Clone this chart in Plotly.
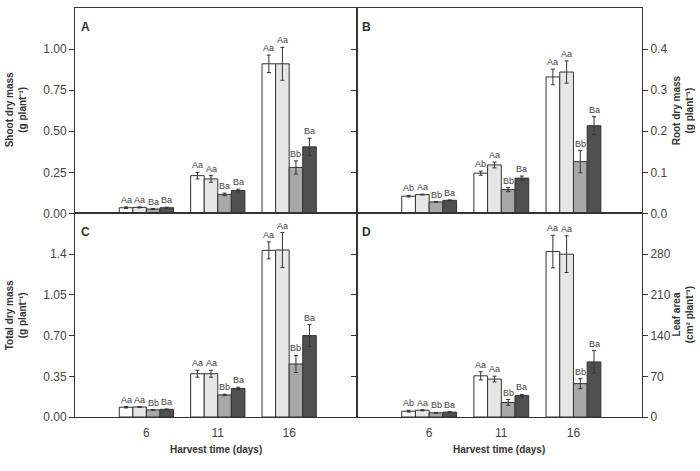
import plotly.graph_objects as go

days = ["6", "11", "16"]
treatments = ["T1", "T2", "T3", "T4"]
bar_colors = ["#ffffff", "#e6e6e6", "#a8a8a8", "#505050"]

# Panel A: shoot dry mass (g plant-1)
shoot = [[0.035, 0.23, 0.91], [0.037, 0.21, 0.91], [0.027, 0.116, 0.28], [0.035, 0.14, 0.405]]
shoot_err = [[0.005, 0.02, 0.053], [0.003, 0.02, 0.10], [0.003, 0.008, 0.04], [0.003, 0.008, 0.053]]
shoot_lab = [["Aa", "Aa", "Aa"], ["Aa", "Aa", "Aa"], ["Ba", "Ba", "Bb"], ["Ba", "Ba", "Ba"]]

# Panel B: root dry mass (g plant-1)
root = [[0.042, 0.098, 0.332], [0.046, 0.118, 0.344], [0.028, 0.058, 0.126], [0.032, 0.086, 0.2135]]
root_err = [[0.002, 0.005, 0.019], [0.001, 0.007, 0.027], [0.001, 0.005, 0.027], [0.001, 0.005, 0.022]]
root_lab = [["Ab", "Ab", "Aa"], ["Aa", "Aa", "Aa"], ["Bb", "Bb", "Bb"], ["Ba", "Ba", "Ba"]]

# Panel C: total dry mass (g plant-1)
total = [[0.084, 0.372, 1.433], [0.086, 0.372, 1.436], [0.061, 0.19, 0.456], [0.066, 0.246, 0.70]]
total_err = [[0.006, 0.03, 0.073], [0.003, 0.03, 0.15], [0.003, 0.006, 0.073], [0.003, 0.01, 0.094]]
total_lab = [["Aa", "Aa", "Aa"], ["Aa", "Aa", "Aa"], ["Bb", "Bb", "Bb"], ["Ba", "Ba", "Ba"]]

# Panel D: leaf area (cm2 plant-1)
leaf = [[10.0, 70.8, 284.5], [11.7, 65.2, 280.0], [7.2, 25.0, 57.4], [8.4, 36.8, 94.7]]
leaf_err = [[1.5, 7.0, 28.0], [1.0, 5.0, 31.5], [0.8, 5.0, 8.6], [0.8, 2.0, 19.5]]
leaf_lab = [["Ab", "Aa", "Aa"], ["Aa", "Aa", "Aa"], ["Bb", "Bb", "Bb"], ["Ba", "Ba", "Ba"]]

panels = [
    ("A", shoot, shoot_err, shoot_lab, "x", "y"),
    ("B", root, root_err, root_lab, "x2", "y2"),
    ("C", total, total_err, total_lab, "x3", "y3"),
    ("D", leaf, leaf_err, leaf_lab, "x4", "y4"),
]

FONT = "Liberation Sans, Arial, sans-serif"
LINE = "#333333"
TXT = "#444444"
bw = 0.19
xpos = [0, 1, 2]

fig = go.Figure()
annotations = []
for letter, vals, errs, labs, xa, ya in panels:
    for i in range(4):
        off = -2 * bw + i * bw
        fig.add_trace(go.Bar(
            x=xpos, y=vals[i], width=bw, offset=off,
            marker=dict(color=bar_colors[i], line=dict(color=LINE, width=1)),
            error_y=dict(type="data", array=errs[i], color=LINE, thickness=1, width=2),
            xaxis=xa, yaxis=ya, showlegend=False, name=treatments[i],
        ))
        for j in range(3):
            annotations.append(dict(
                x=xpos[j] + off + bw / 2, y=vals[i][j] + errs[i][j],
                xref=xa, yref=ya, text=labs[i][j], showarrow=False,
                yanchor="bottom", yshift=0,
                font=dict(family=FONT, size=9, color=TXT),
            ))

xdom_l = [75 / 700, 357 / 700]
xdom_r = [357 / 700, 642 / 700]
ydom_t = [1 - 216.7 / 471, 1 - 8 / 471]
ydom_b = [1 - 423.3 / 471, 1 - 216.7 / 471]
xr = [-1.0, 2.95]

common_x = dict(range=xr, tickvals=xpos, ticktext=days, showline=True, linecolor=LINE,
                linewidth=1, mirror=True, ticks="", showgrid=False, zeroline=False,
                ticklabelstandoff=5,
                tickfont=dict(family=FONT, size=12, color=TXT))
common_y = dict(showline=True, linecolor=LINE, linewidth=1, mirror=True, ticks="outside",
                ticklen=5, tickcolor=LINE, showgrid=False, zeroline=False,
                tickfont=dict(family=FONT, size=12, color=TXT))

fig.update_layout(
    width=700, height=471, margin=dict(l=0, r=0, t=0, b=0),
    paper_bgcolor="white", plot_bgcolor="white", barmode="overlay",
    xaxis=dict(common_x, domain=xdom_l, anchor="y", showticklabels=False),
    xaxis2=dict(common_x, domain=xdom_r, anchor="y2", showticklabels=False),
    xaxis3=dict(common_x, domain=xdom_l, anchor="y3"),
    xaxis4=dict(common_x, domain=xdom_r, anchor="y4"),
    yaxis=dict(common_y, domain=ydom_t, anchor="x", range=[0, 1.25],
               tickvals=[0, 0.25, 0.5, 0.75, 1.0], ticktext=["0.00", "0.25", "0.50", "0.75", "1.00"]),
    yaxis2=dict(common_y, domain=ydom_t, anchor="x2", side="right", range=[0, 0.5], mirror="ticks",
                tickvals=[0, 0.1, 0.2, 0.3, 0.4], ticktext=["0.0", "0.1", "0.2", "0.3", "0.4"]),
    yaxis3=dict(common_y, domain=ydom_b, anchor="x3", range=[0, 1.75],
                tickvals=[0, 0.35, 0.7, 1.05, 1.4], ticktext=["0.00", "0.35", "0.70", "1.05", "1.4"]),
    yaxis4=dict(common_y, domain=ydom_b, anchor="x4", side="right", range=[0, 350], mirror="ticks",
                tickvals=[0, 70, 140, 210, 280], ticktext=["0", "70", "140", "210", "280"]),
)

BOLD = dict(family=FONT, size=12, color="#333333", weight="bold")
TFONT = dict(family=FONT, size=10, color="#333333", weight="bold")
letters = [("A", 85 / 700, 1 - 27 / 471), ("B", 366 / 700, 1 - 27 / 471),
           ("C", 85 / 700, 1 - 235 / 471), ("D", 366 / 700, 1 - 235 / 471)]
for t, px, py in letters:
    annotations.append(dict(x=px, y=py, xref="paper", yref="paper", text=t,
                            showarrow=False, font=BOLD, xanchor="center", yanchor="middle"))

ytitles = [
    ("Shoot dry mass<br>(g plant⁻¹)", 16, 112),
    ("Total dry mass<br>(g plant⁻¹)", 16, 320),
    ("Root dry mass<br>(g plant⁻¹)", 683, 112),
    ("Leaf area<br>(cm² plant⁻¹)", 683, 320),
]
for t, px, py in ytitles:
    annotations.append(dict(x=px / 700, y=1 - py / 471, xref="paper", yref="paper", text=t,
                            showarrow=False, textangle=-90, font=TFONT,
                            xanchor="center", yanchor="middle"))

for cx in [216, 499.5]:
    annotations.append(dict(x=cx / 700, y=1 - 456 / 471, xref="paper", yref="paper",
                            text="Harvest time (days)", showarrow=False, font=TFONT,
                            xanchor="center", yanchor="middle"))

fig.update_layout(annotations=annotations)
fig.write_html("out.html")
